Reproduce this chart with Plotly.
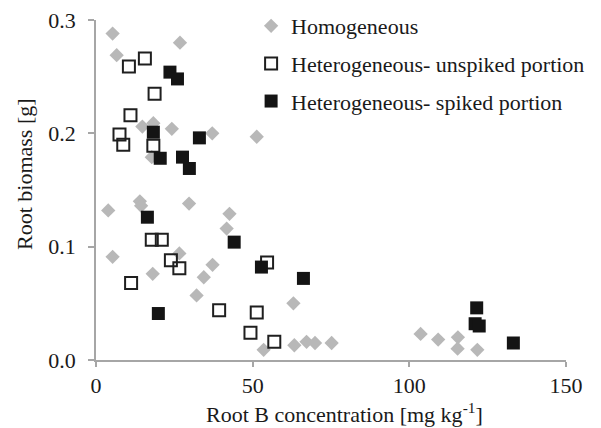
import plotly.graph_objects as go

# Homogeneous (grey diamonds)
homo_x = [5.3, 26.8, 6.6, 14.8, 18.3, 24.2, 37.1, 51.3, 17.8, 3.9, 14.0, 14.4,
          29.7, 42.6, 41.7, 5.3, 26.6, 18.1, 37.2, 34.4, 32.1, 53.5, 63.0, 63.3,
          67.2, 69.9, 75.2, 103.6, 109.2, 115.5, 115.4, 121.7]
homo_y = [0.288, 0.280, 0.269, 0.206, 0.209, 0.204, 0.200, 0.197, 0.179, 0.132,
          0.140, 0.136, 0.138, 0.129, 0.116, 0.091, 0.094, 0.076, 0.084, 0.073,
          0.057, 0.009, 0.050, 0.013, 0.016, 0.015, 0.015, 0.023, 0.018, 0.020,
          0.010, 0.009]

# Heterogeneous - unspiked portion (open squares)
unsp_x = [15.6, 10.5, 18.7, 11.0, 7.5, 8.7, 18.3, 17.8, 21.0, 23.9, 26.6, 11.2,
          39.3, 51.3, 49.3, 54.6, 56.9]
unsp_y = [0.266, 0.259, 0.235, 0.216, 0.199, 0.190, 0.189, 0.106, 0.106, 0.088,
          0.081, 0.068, 0.044, 0.042, 0.024, 0.086, 0.016]

# Heterogeneous - spiked portion (filled squares)
spk_x = [23.6, 26.0, 18.3, 33.0, 20.5, 27.6, 29.8, 16.4, 44.1, 52.8, 19.9, 66.2,
         121.5, 121.0, 122.3, 133.2]
spk_y = [0.254, 0.248, 0.201, 0.196, 0.178, 0.179, 0.169, 0.126, 0.104, 0.082,
         0.041, 0.072, 0.046, 0.032, 0.030, 0.015]

FONT = "Liberation Serif, Times New Roman, Times, serif"
AXIS_GREY = "#a6a6a6"

fig = go.Figure()
fig.add_trace(go.Scatter(
    x=homo_x, y=homo_y, mode="markers", name="Homogeneous", legendgroup="a",
    marker=dict(symbol="diamond", size=11, color="#b8b8b8", line=dict(width=0)),
))
fig.add_trace(go.Scatter(
    x=unsp_x, y=unsp_y, mode="markers", name="Heterogeneous- unspiked portion",
    legendgroup="b",
    marker=dict(symbol="square-open", size=12, color="#1f1f1f", line=dict(width=2)),
))
fig.add_trace(go.Scatter(
    x=spk_x, y=spk_y, mode="markers", name="Heterogeneous- spiked portion",
    legendgroup="c",
    marker=dict(symbol="square", size=13, color="#141414", line=dict(width=0)),
))

fig.update_layout(
    width=601, height=428,
    margin=dict(l=96, r=35, t=20, b=68, autoexpand=False),
    plot_bgcolor="white", paper_bgcolor="white",
    font=dict(family=FONT, size=22, color="#1a1a1a"),
    legend=dict(x=0.33, y=1.044, xanchor="left", yanchor="top",
                bgcolor="rgba(0,0,0,0)", tracegroupgap=6,
                font=dict(family=FONT, size=22)),
    annotations=[
        dict(text="Root biomass [g]", textangle=-90, x=25, y=174,
             xref="paper", yref="paper", showarrow=False,
             xanchor="center", yanchor="middle"),
        dict(text="Root B concentration [mg kg<sup>-1</sup>]", x=344, y=413,
             xref="paper", yref="paper", showarrow=False,
             xanchor="center", yanchor="middle"),
    ],
)

# convert the title pixel positions to paper coordinates
for ann in fig.layout.annotations:
    ann.x = (ann.x - 96) / 470
    ann.y = (360 - ann.y) / 340

fig.update_xaxes(
    range=[0, 150], tickvals=[0, 50, 100, 150], showgrid=False, zeroline=False,
    showline=True, linecolor=AXIS_GREY, linewidth=1.5, automargin=False,
    ticks="outside", ticklen=5, tickcolor=AXIS_GREY, tickwidth=1.5,
)
fig.update_yaxes(
    range=[0, 0.3], tickvals=[0, 0.1, 0.2, 0.3], tickformat=".1f",
    showgrid=False, zeroline=False, automargin=False,
    showline=True, linecolor=AXIS_GREY, linewidth=1.5,
    ticks="outside", ticklen=6, tickcolor=AXIS_GREY, tickwidth=1.5,
    ticklabelstandoff=8,
)

fig.write_html("out.html", config={"displayModeBar": False},
               post_script="document.body.style.margin='0';")
